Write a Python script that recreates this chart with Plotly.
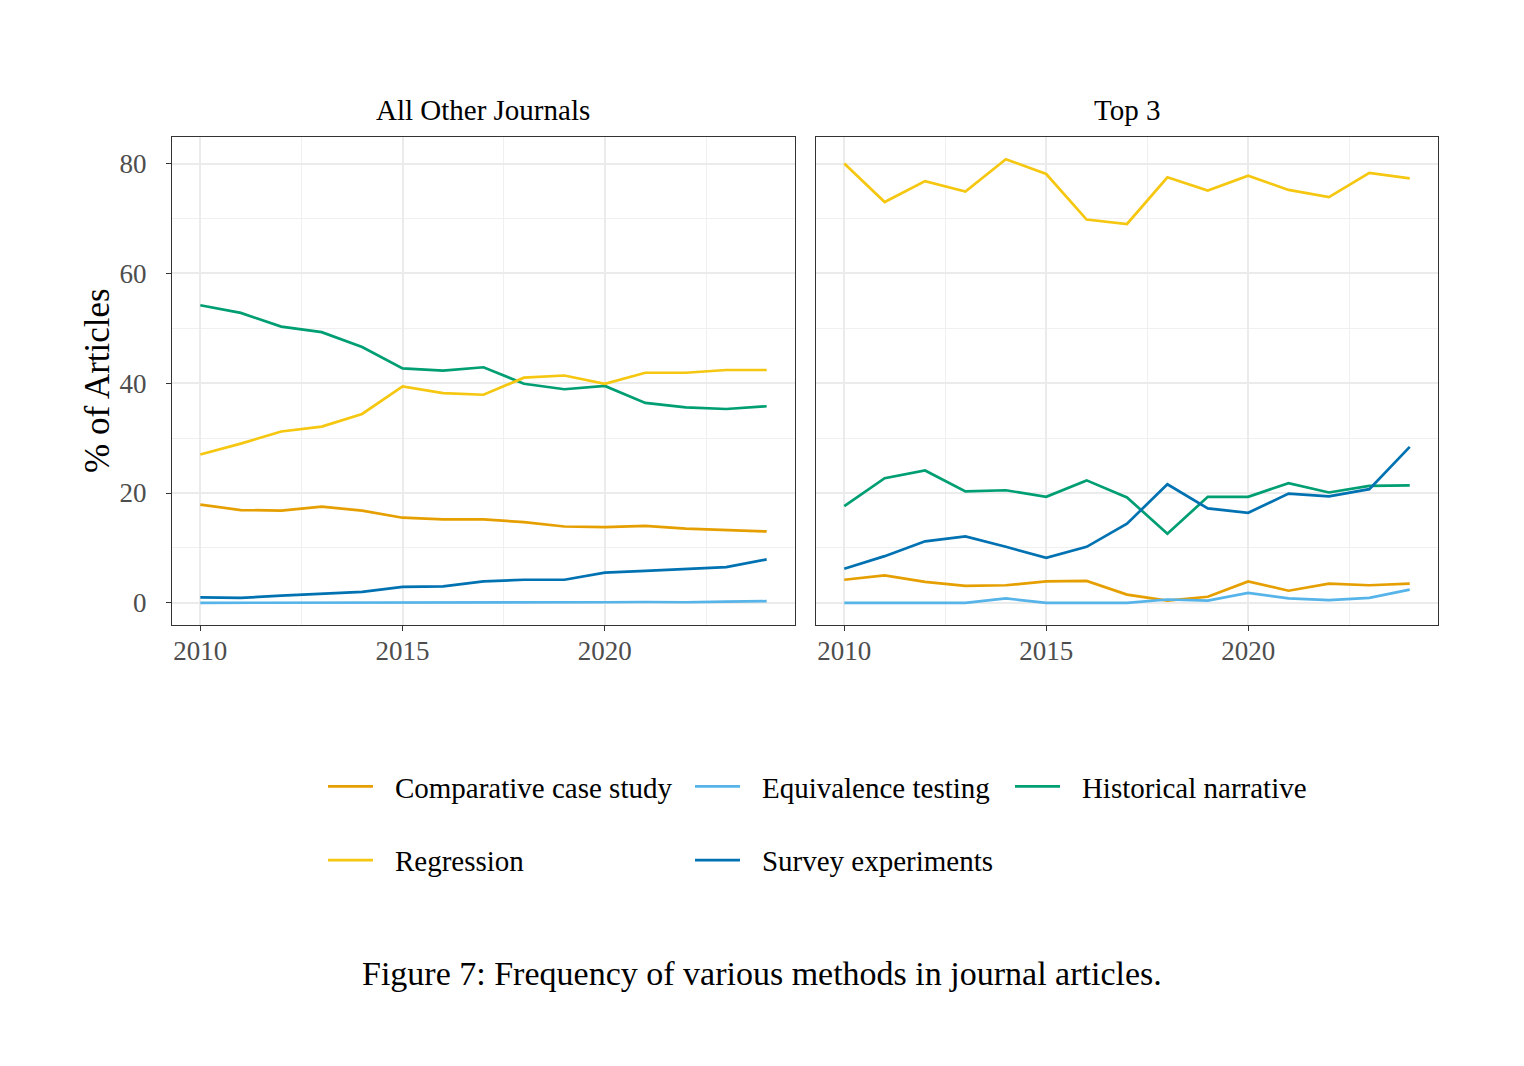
import plotly.graph_objects as go

years = list(range(2010, 2025))
methods = ["Comparative case study", "Equivalence testing", "Historical narrative",
           "Regression", "Survey experiments"]
colors = {"Comparative case study": "#E69F00", "Equivalence testing": "#56B4E9",
          "Historical narrative": "#009E73", "Regression": "#F5C710",
          "Survey experiments": "#0072B2"}

other_comparative = [17.9, 16.9, 16.8, 17.5, 16.8, 15.5, 15.2, 15.2, 14.7, 13.9, 13.8, 14.0, 13.5, 13.3, 13.0]
other_equivalence = [0.0, 0.0, 0.0, 0.0, 0.0, 0.0, 0.0, 0.0, 0.0, 0.0, 0.1, 0.15, 0.1, 0.2, 0.3]
other_historical = [54.2, 52.8, 50.3, 49.3, 46.6, 42.7, 42.3, 42.9, 39.9, 38.9, 39.5, 36.4, 35.6, 35.3, 35.8]
other_regression = [27.0, 29.0, 31.2, 32.1, 34.4, 39.4, 38.2, 37.9, 41.0, 41.4, 39.9, 41.9, 41.9, 42.4, 42.4]
other_survey = [1.0, 0.9, 1.3, 1.7, 2.0, 2.9, 3.0, 3.9, 4.2, 4.2, 5.5, 5.8, 6.2, 6.5, 7.9]

top_comparative = [4.2, 5.0, 3.8, 3.1, 3.2, 3.9, 4.0, 1.5, 0.4, 1.1, 3.9, 2.2, 3.5, 3.2, 3.5]
top_equivalence = [0.0, 0.0, 0.0, 0.0, 0.8, 0.0, 0.0, 0.0, 0.6, 0.4, 1.8, 0.8, 0.5, 0.9, 2.4]
top_historical = [17.6, 22.7, 24.1, 20.3, 20.5, 19.3, 22.3, 19.2, 12.6, 19.3, 19.3, 21.8, 20.1, 21.3, 21.4]
top_regression = [80.0, 73.0, 76.8, 74.9, 80.8, 78.1, 69.8, 69.0, 77.5, 75.1, 77.8, 75.2, 73.9, 78.3, 77.3]
top_survey = [6.2, 8.5, 11.2, 12.1, 10.2, 8.2, 10.2, 14.4, 21.6, 17.2, 16.4, 19.9, 19.4, 20.7, 28.4]

panels = {
    "All Other Journals": [other_comparative, other_equivalence, other_historical, other_regression, other_survey],
    "Top 3": [top_comparative, top_equivalence, top_historical, top_regression, top_survey],
}
legend_of = {"Comparative case study": "legend", "Regression": "legend",
             "Equivalence testing": "legend2", "Survey experiments": "legend2",
             "Historical narrative": "legend3"}

FONT = "Liberation Serif"
PAD = "\u2002\u200a"  # gap between legend key and label
fig = go.Figure()
axes = [("x", "y"), ("x2", "y2")]
for p, (title, series) in enumerate(panels.items()):
    xa, ya = axes[p]
    for m, vals in zip(methods, series):
        fig.add_trace(go.Scatter(
            x=years, y=vals, mode="lines", name=PAD + m,
            line=dict(color=colors[m], width=2.7),
            xaxis=xa, yaxis=ya, showlegend=(p == 0),
            legendgroup=m, legend=legend_of[m]))

tickfont = dict(family=FONT, size=27, color="#4D4D4D")
common_x = dict(range=[2009.3, 2024.7], tickvals=[2010, 2015, 2020],
                showgrid=True, gridcolor="#EBEBEB", gridwidth=2,
                minor=dict(tickvals=[2012.5, 2017.5, 2022.5], showgrid=True,
                           gridcolor="#F0F0F0", gridwidth=1, ticklen=0),
                ticks="outside", ticklen=5, tickcolor="#333333", tickwidth=1.2,
                showline=True, linecolor="#333333", linewidth=1.2, mirror=True,
                zeroline=False, tickfont=tickfont, ticklabelstandoff=-4)
common_y = dict(range=[-4.04, 84.84], tickvals=[0, 20, 40, 60, 80],
                showgrid=True, gridcolor="#EBEBEB", gridwidth=2,
                minor=dict(tickvals=[10, 30, 50, 70], showgrid=True,
                           gridcolor="#F0F0F0", gridwidth=1, ticklen=0),
                showline=True, linecolor="#333333", linewidth=1.2, mirror=True,
                zeroline=False, tickfont=tickfont)

# page body has an 8px margin; coordinates below are in screenshot pixels
OFF = 8
W, H = 1524 - 2 * OFF, 1066 - 2 * OFF
def px(x):
    return (x - OFF) / W
def py(y):
    return 1 - (y - OFF) / H

fig.update_layout(
    width=W, height=H, autosize=False,
    margin=dict(l=0, r=0, t=0, b=0),
    paper_bgcolor="white", plot_bgcolor="white",
    font=dict(family=FONT, color="black"),
    xaxis=dict(domain=[px(172), px(795)], anchor="y", **common_x),
    yaxis=dict(domain=[py(625), py(137)], anchor="x", ticks="outside", ticklen=5,
               tickcolor="#333333", tickwidth=1.2, ticklabelstandoff=14, **common_y),
    xaxis2=dict(domain=[px(816), px(1438)], anchor="y2", **common_x),
    yaxis2=dict(domain=[py(625), py(137)], anchor="x2", showticklabels=False, ticks="",
                **common_y),
)

leg_common = dict(orientation="v", yanchor="top", xanchor="left", bgcolor="rgba(0,0,0,0)",
                  font=dict(family=FONT, size=29, color="black"), tracegroupgap=33,
                  itemwidth=45)
fig.update_layout(
    legend=dict(x=px(323), y=py(761), **leg_common),
    legend2=dict(x=px(690), y=py(761), **leg_common),
    legend3=dict(x=px(1010), y=py(761), **leg_common),
)

def ann(text, x, y, size, angle=0):
    return dict(text=text, x=px(x), y=py(y), xref="paper", yref="paper",
                xanchor="center", yanchor="middle", showarrow=False, textangle=angle,
                font=dict(family=FONT, size=size, color="black"))

fig.update_layout(annotations=[
    ann("All Other Journals", 483.5, 110, 29),
    ann("Top 3", 1127, 110, 29),
    ann("% of Articles", 97, 381, 35, -90),
    ann("Figure 7: Frequency of various methods in journal articles.", 762, 973, 34),
])

fig.write_html("out.html")
